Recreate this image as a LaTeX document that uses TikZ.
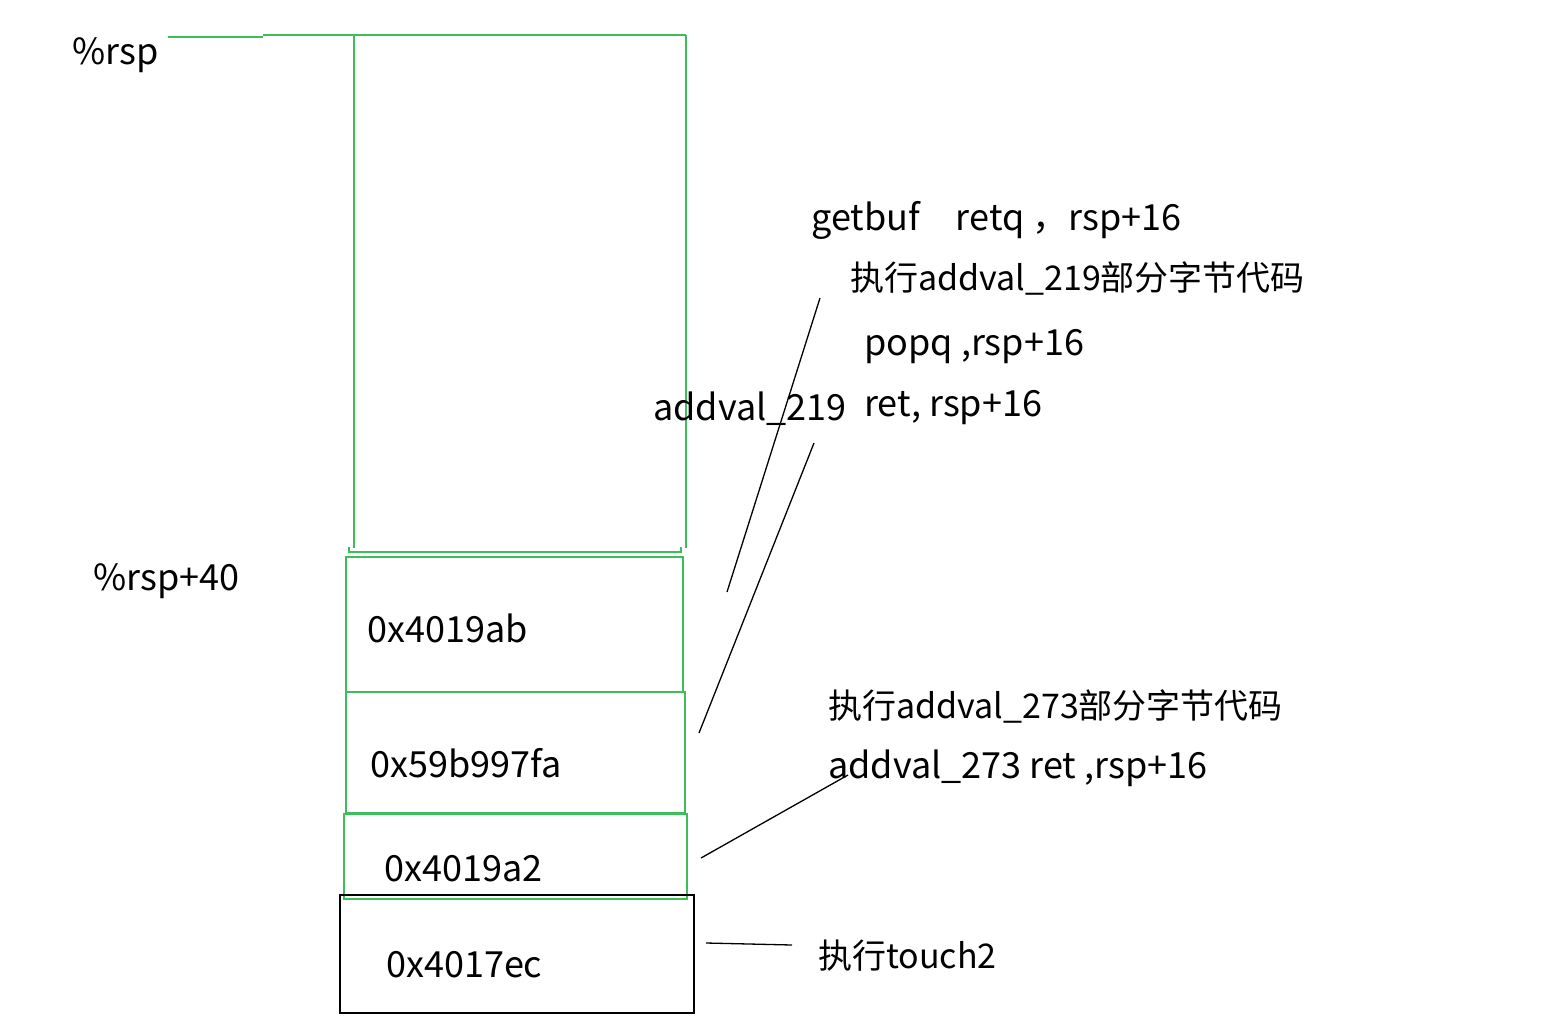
\documentclass[tikz,border=0pt]{standalone}
\usepackage{fontspec}
\setmainfont{Noto Sans CJK SC}
\usetikzlibrary{positioning}
\definecolor{stackgreen}{RGB}{60,190,90}

\begin{document}
\begin{tikzpicture}[x=1pt,y=-1pt,node distance=2pt,
  every node/.style={font=\fontsize{34}{40}\selectfont,inner sep=0pt,anchor=base west},
  latin/.style={font=\fontsize{36}{42}\selectfont},
  slot/.style={draw=stackgreen,line width=1.5pt,anchor=north west,inner sep=0pt},
  note/.style={draw=black,line width=1.3pt}]
\useasboundingbox (0,0) rectangle (1544,1018);

% frame of the buffer
\draw[stackgreen,line width=1.5pt] (168,37) -- (263,37);
\draw[stackgreen,line width=1.5pt] (263,35) -- (686,35) (354,35) -- (354,548) (686,35) -- (686,548);
\draw[stackgreen,line width=1.5pt] (349,547) -- (349,552) -- (681,552) -- (681,547);

% stack slots
\node[slot,minimum width=337pt,minimum height=135pt] at (345,556) (ab) {};
\node[slot,minimum width=339pt,minimum height=121pt] at (345,691) (fa) {};
\node[slot,minimum width=343pt,minimum height=85pt] at (343,813) (a2) {};
\node[slot,draw=black,minimum width=354pt,minimum height=118pt] at (339,894) (ec) {};

\node[latin] at (367,642) (abtxt) {0x4019ab};
\node[latin] at (370,777) (fatxt) {0x59b997fa};
\node[latin] at (384,881) (a2txt) {0x4019a2};
\node[latin] at (386,977) (ectxt) {0x4017ec};

\node[latin] at (72,64) (rsp) {\%rsp};
\node[latin] at (93,590) (rspb) {\%rsp+40};

% notes
\node[latin] at (811,230) (getbuf) {getbuf\quad retq ，rsp+16};
\node at (850,290) (run219) {执行addval\_219部分字节代码};
\node[latin] at (864,355) (popq) {popq ,rsp+16};
\node[latin] at (653,420) (add219) {addval\_219};
\node[latin] at (864,416) (ret219) {ret, rsp+16};
\node at (828,718) (run273) {执行addval\_273部分字节代码};
\node[latin] at (828,778) (ret273) {addval\_273 ret ,rsp+16};
\node at (818,968) (touch) {执行touch2};

% pointers
\coordinate (p1) at (820,298);
\coordinate (q1) at (727,592);
\coordinate (p2) at (814,443);
\coordinate (q2) at (699,733);
\coordinate (p3) at (848,775);
\coordinate (q3) at (701,858);
\coordinate (p4) at (706,943);
\coordinate (q4) at (792,945);
\draw[note] (p1) -- (q1);
\draw[note] (p2) -- (q2);
\draw[note] (p3) -- (q3);
\draw[note] (p4) -- (q4);
\end{tikzpicture}
\end{document}
